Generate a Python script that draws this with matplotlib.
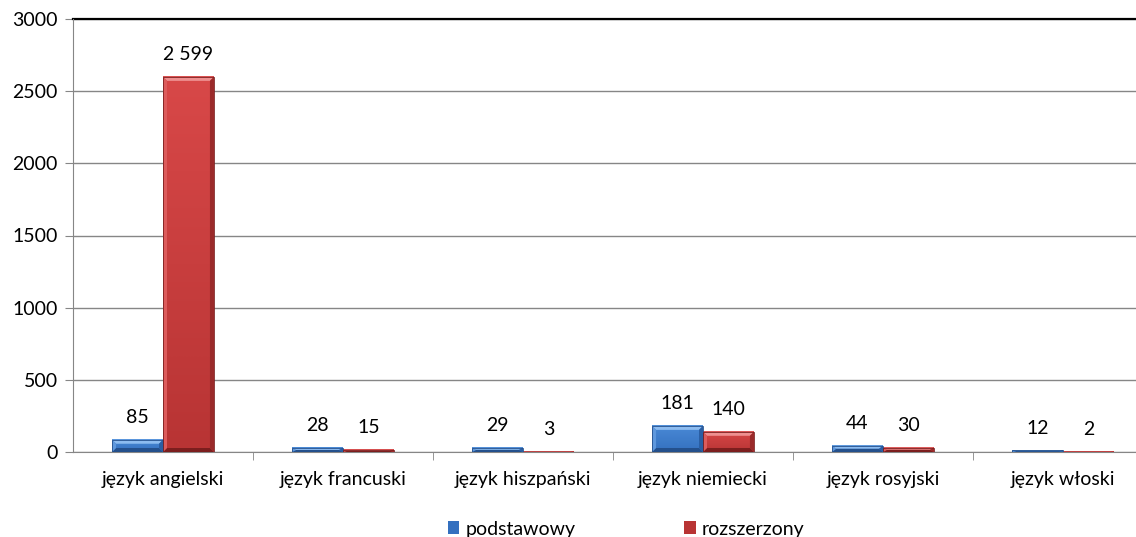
import numpy as np
import matplotlib.pyplot as plt
from matplotlib.patches import Polygon
from matplotlib.colors import to_rgb

categories = ['język angielski', 'język francuski', 'język hiszpański',
              'język niemiecki', 'język rosyjski', 'język włoski']
podstawowy = [85, 28, 29, 181, 44, 12]
rozszerzony = [2599, 15, 3, 140, 30, 2]
series_names = ['podstawowy', 'rozszerzony']

plt.rcParams['font.family'] = ['Lato', 'DejaVu Sans']
FS = 14

fig = plt.figure(figsize=(11.36, 5.37), dpi=100)
ax = fig.add_axes([73 / 1136, 85 / 537, 1080 / 1136, 433 / 537])

x = np.arange(len(categories))
w = 0.283
grid_c = '#868686'
ymax = 3000
px_x = 1 / 180.0          # data units per pixel, x
px_y = ymax / 433.0       # data units per pixel, y

# colours: face top, face bottom, top bevel, bottom bevel, left, right
pal = {
    'blue': ('#4a8ad6', '#3470bf', '#8dbcf0', '#24508c', '#5f98dd', '#2a5ea3'),
    'red': ('#d84848', '#b83434', '#ee9090', '#7c1e1e', '#dc5c5c', '#9a2a2a'),
}


def fmt(v):
    return f'{v:,}'.replace(',', ' ')


def bevel_bar(bar, key):
    top_c, bot_c, hi, lo, lc, rc = pal[key]
    x0, y0 = bar.get_x(), bar.get_y()
    bw, bh = bar.get_width(), bar.get_height()
    t = np.linspace(0, 1, 64)[:, None]
    img = (1 - t) * np.array(to_rgb(top_c)) + t * np.array(to_rgb(bot_c))
    img = img[:, None, :].repeat(2, axis=1)
    ax.imshow(img, extent=[x0, x0 + bw, y0, y0 + bh], aspect='auto',
              origin='upper', zorder=3, clip_path=bar, interpolation='bilinear')
    dx = 4 * px_x
    dy = min(4 * px_y, bh / 2)
    xs, xe, ys, ye = x0, x0 + bw, y0, y0 + bh
    sides = [
        ([(xs, ye), (xe, ye), (xe - dx, ye - dy), (xs + dx, ye - dy)], hi),
        ([(xs, ys), (xe, ys), (xe - dx, ys + dy), (xs + dx, ys + dy)], lo),
        ([(xs, ys), (xs, ye), (xs + dx, ye - dy), (xs + dx, ys + dy)], lc),
        ([(xe, ys), (xe, ye), (xe - dx, ye - dy), (xe - dx, ys + dy)], rc),
    ]
    for pts, c in sides:
        ax.add_patch(Polygon(pts, closed=True, facecolor=c, edgecolor='none', zorder=4))
    ax.add_patch(plt.Rectangle((x0, y0), bw, bh, fill=False,
                               edgecolor=lo, linewidth=0.6, zorder=5))


bars_b = ax.bar(x - w / 2, podstawowy, w, color=pal['blue'][1],
                label=series_names[0], zorder=2)
bars_r = ax.bar(x + w / 2, rozszerzony, w, color=pal['red'][1],
                label=series_names[1], zorder=2)

for bars, vals, key in ((bars_b, podstawowy, 'blue'), (bars_r, rozszerzony, 'red')):
    for b, v in zip(bars, vals):
        bevel_bar(b, key)
        ax.annotate(fmt(v), (b.get_x() + b.get_width() / 2, v),
                    xytext=(0, 16), textcoords='offset points',
                    ha='center', va='center', fontsize=FS)

ax.set_xlim(-0.5, len(categories) - 0.5)
ax.set_ylim(0, ymax)
ax.set_yticks(range(0, ymax + 1, 500))
ax.tick_params(axis='y', labelsize=FS, length=6, color=grid_c, pad=5)
ax.set_xticks(x)
ax.set_xticklabels(categories, fontsize=FS)
ax.tick_params(axis='x', which='major', length=0, pad=14)
ax.set_xticks(np.arange(len(categories)) + 0.5, minor=True)
ax.tick_params(axis='x', which='minor', length=6, color=grid_c)

ax.yaxis.grid(True, color=grid_c, linewidth=1, zorder=0)
ax.set_axisbelow(True)
for s in ('right', 'top'):
    ax.spines[s].set_visible(False)
ax.spines['left'].set_color(grid_c)
ax.spines['bottom'].set_color(grid_c)
ax.axhline(ymax, color='black', linewidth=1.6, zorder=2, clip_on=False)

fig.legend(handles=[bars_b, bars_r], labels=series_names, loc='center',
           bbox_to_anchor=(626 / 1136, 8 / 537), ncol=2,
           frameon=False, fontsize=FS, handlelength=0.6, handleheight=0.6,
           handletextpad=0.3, columnspacing=5.6)

fig.savefig('out.png', dpi=100)
